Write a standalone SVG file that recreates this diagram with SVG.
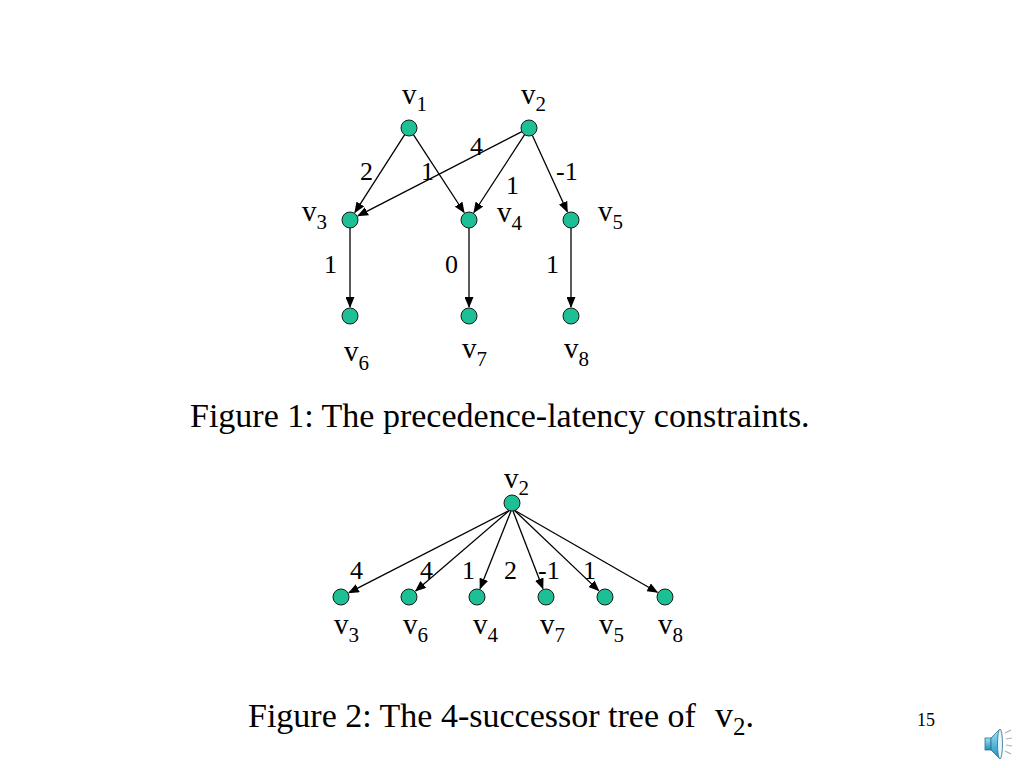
<svg xmlns="http://www.w3.org/2000/svg" width="1024" height="768" viewBox="0 0 1024 768">
<style>
.n{fill:#1DBF95;stroke:#1a1a1a;stroke-width:1}
.e{stroke:#000;stroke-width:1.3;fill:none;marker-end:url(#ah)}
.t{font-family:"Liberation Serif","Times New Roman",serif;fill:#000}
.v{font-size:29px}
.s{font-size:21px}
.w{font-size:26px}
.cap{font-size:34px}
</style>
<defs>
<marker id="ah" markerUnits="userSpaceOnUse" markerWidth="11" markerHeight="9" refX="10" refY="4.5" orient="auto" viewBox="0 0 11 9">
<path d="M0,0 L11,4.5 L0,9 z" fill="#000"/>
</marker>
<linearGradient id="spk" x1="0" y1="0" x2="0" y2="1">
<stop offset="0" stop-color="#9fe3f5"/>
<stop offset="1" stop-color="#1b8fc0"/>
</linearGradient>
</defs>
<g id="connectors">
<line class="e" x1="404.7" y1="134.7" x2="354.9" y2="212.4"/>
<line class="e" x1="413.4" y1="134.7" x2="464.1" y2="212.5"/>
<line class="e" x1="521.9" y1="131.7" x2="358" y2="215.9"/>
<line class="e" x1="524.6" y1="134.7" x2="473.9" y2="212.5"/>
<line class="e" x1="532.3" y1="135.3" x2="567.3" y2="211.8"/>
<line class="e" x1="350" y1="228" x2="350" y2="307"/>
<line class="e" x1="469" y1="228" x2="469" y2="307"/>
<line class="e" x1="571" y1="228" x2="571" y2="307"/>
<line class="e" x1="510" y1="510" x2="348.9" y2="592.7"/>
<line class="e" x1="510" y1="510" x2="415.7" y2="590.9"/>
<line class="e" x1="511" y1="511" x2="480.1" y2="588.6"/>
<line class="e" x1="513" y1="511" x2="542.9" y2="588.5"/>
<line class="e" x1="514" y1="510" x2="598.7" y2="590.6"/>
<line class="e" x1="514" y1="510" x2="657.3" y2="592.3"/>
</g>
<g id="edge-labels" class="t w">
<text x="360" y="180">2</text>
<text x="421" y="180">1</text>
<text x="470" y="155">4</text>
<text x="506" y="194">1</text>
<text x="556" y="180">-1</text>
<text x="324" y="273">1</text>
<text x="445" y="273">0</text>
<text x="546" y="273">1</text>
<text x="350" y="579">4</text>
<text x="420" y="579">4</text>
<text x="462" y="579">1</text>
<text x="504" y="579">2</text>
<text x="538" y="579">-1</text>
<text x="583" y="579">1</text>
</g>
<g id="fig1-v1"><circle class="n" cx="409" cy="128" r="8"/><text class="t v" x="402" y="104">v<tspan class="s" dy="7">1</tspan></text></g>
<g id="fig1-v2"><circle class="n" cx="529" cy="128" r="8"/><text class="t v" x="521" y="104">v<tspan class="s" dy="7">2</tspan></text></g>
<g id="fig1-v3"><circle class="n" cx="350" cy="220" r="8"/><text class="t v" x="302" y="221">v<tspan class="s" dy="8">3</tspan></text></g>
<g id="fig1-v4"><circle class="n" cx="469" cy="220" r="8"/><text class="t v" x="497" y="222">v<tspan class="s" dy="8">4</tspan></text></g>
<g id="fig1-v5"><circle class="n" cx="571" cy="220" r="8"/><text class="t v" x="598" y="221">v<tspan class="s" dy="8">5</tspan></text></g>
<g id="fig1-v6"><circle class="n" cx="350" cy="316" r="8"/><text class="t v" x="344" y="361">v<tspan class="s" dy="9">6</tspan></text></g>
<g id="fig1-v7"><circle class="n" cx="469" cy="316" r="8"/><text class="t v" x="462" y="358">v<tspan class="s" dy="8">7</tspan></text></g>
<g id="fig1-v8"><circle class="n" cx="571" cy="316" r="8"/><text class="t v" x="564" y="358">v<tspan class="s" dy="8">8</tspan></text></g>
<text class="t cap" x="190" y="427">Figure 1: The precedence-latency constraints.</text>
<g id="fig2-v2"><circle class="n" cx="512" cy="503" r="8"/><text class="t v" x="504" y="488">v<tspan class="s" dy="7">2</tspan></text></g>
<g id="fig2-v3"><circle class="n" cx="341" cy="597" r="8"/><text class="t v" x="334" y="634">v<tspan class="s" dy="8">3</tspan></text></g>
<g id="fig2-v6"><circle class="n" cx="409" cy="597" r="8"/><text class="t v" x="403" y="634">v<tspan class="s" dy="8">6</tspan></text></g>
<g id="fig2-v4"><circle class="n" cx="477" cy="597" r="8"/><text class="t v" x="473" y="634">v<tspan class="s" dy="8">4</tspan></text></g>
<g id="fig2-v7"><circle class="n" cx="546" cy="597" r="8"/><text class="t v" x="540" y="634">v<tspan class="s" dy="8">7</tspan></text></g>
<g id="fig2-v5"><circle class="n" cx="605" cy="597" r="8"/><text class="t v" x="599" y="634">v<tspan class="s" dy="8">5</tspan></text></g>
<g id="fig2-v8"><circle class="n" cx="665" cy="597" r="8"/><text class="t v" x="658" y="634">v<tspan class="s" dy="8">8</tspan></text></g>
<text class="t cap" x="248" y="727">Figure 2: The 4-successor tree of <tspan x="715" font-size="36px">v</tspan><tspan font-size="25px" dy="8">2</tspan><tspan dy="-8">.</tspan></text>
<text class="t" x="917" y="726" font-size="18px">15</text>
<g id="speaker">
<rect x="985" y="738" width="6" height="12" fill="url(#spk)" stroke="#2a6f8f" stroke-width="0.8"/>
<path d="M991,738 L1000,729 L1000,759 L991,750 z" fill="url(#spk)" stroke="#2a6f8f" stroke-width="0.8"/>
<ellipse cx="1000" cy="744" rx="2.5" ry="15" fill="#e8f6fb" stroke="#2a6f8f" stroke-width="0.8"/>
<g stroke="#b0b0b0" stroke-width="1.2">
<line x1="1005" y1="733" x2="1011" y2="730"/>
<line x1="1006" y1="739" x2="1012" y2="738"/>
<line x1="1006" y1="745" x2="1012" y2="746"/>
<line x1="1005" y1="751" x2="1011" y2="754"/>
</g>
</g>
</svg>
